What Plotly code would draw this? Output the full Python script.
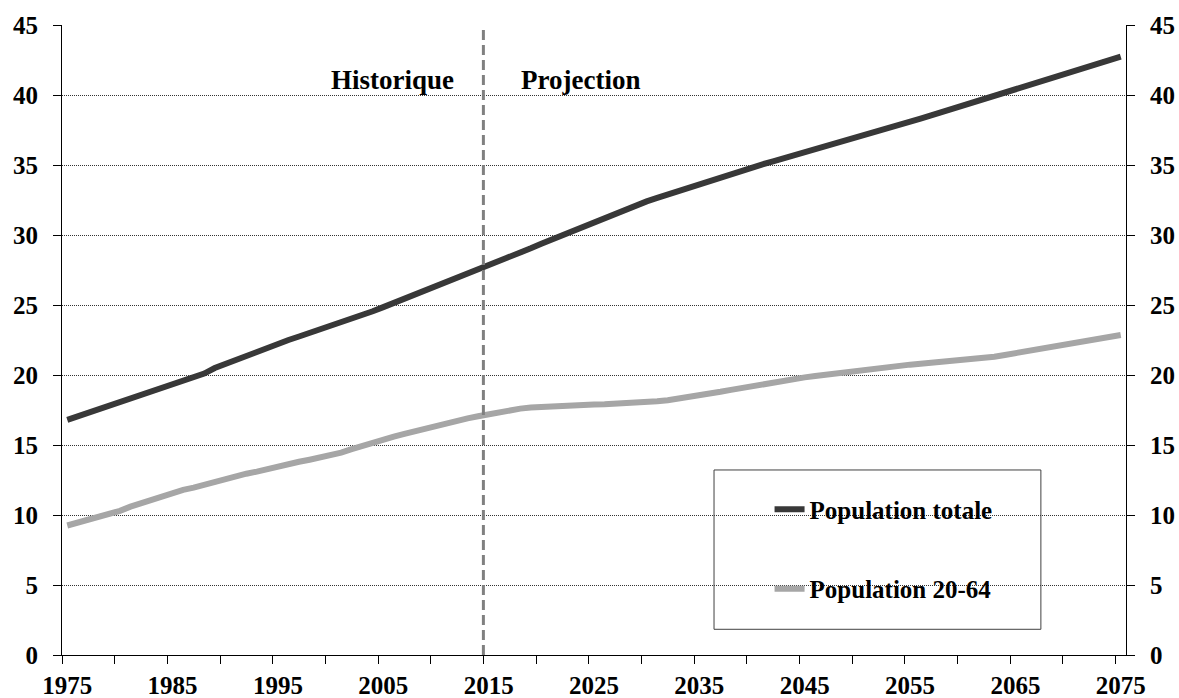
import plotly.graph_objects as go

years = list(range(1975, 2076))

pop_totale = [
    16.8, 17.05, 17.3, 17.55, 17.8, 18.05, 18.3, 18.57, 18.85, 19.1,
    19.3, 19.5, 19.8, 20.1, 20.5, 20.8, 21.1, 21.4, 21.7, 21.95,
    22.2, 22.5, 22.75, 23.0, 23.2, 23.45, 23.8, 24.05, 24.3, 24.55,
    24.85, 25.15, 25.4, 25.7, 26.0, 26.3, 26.55, 26.9, 27.2, 27.45,
    27.75, 28.08, 28.41, 28.73, 29.05, 29.37, 29.68, 29.99, 30.3, 30.61,
    30.92, 31.22, 31.52, 31.82, 32.11, 32.4, 32.65, 32.9, 33.14, 33.38,
    33.62, 33.87, 34.11, 34.36, 34.6, 34.84, 35.05, 35.26, 35.47, 35.68,
    35.89, 36.1, 36.32, 36.54, 36.76, 36.98, 37.2, 37.41, 37.63, 37.85,
    38.08, 38.31, 38.54, 38.77, 39.0, 39.23, 39.47, 39.7, 39.92, 40.15,
    40.37, 40.6, 40.82, 41.05, 41.27, 41.5, 41.75, 42.0, 42.24, 42.49,
    42.74,
]

pop_20_64 = [
    9.25, 9.45, 9.65, 9.85, 10.05, 10.3, 10.6, 10.85, 11.15, 11.4,
    11.6, 11.8, 11.95, 12.15, 12.4, 12.65, 12.8, 12.95, 13.1, 13.3,
    13.45, 13.6, 13.8, 13.95, 14.1, 14.25, 14.45, 14.7, 14.95, 15.2,
    15.4, 15.6, 15.8, 16.0, 16.2, 16.4, 16.55, 16.7, 16.9, 17.05,
    17.2, 17.35, 17.5, 17.6, 17.68, 17.73, 17.78, 17.82, 17.85, 17.87,
    17.89, 17.91, 17.94, 17.97, 18.01, 18.06, 18.12, 18.2, 18.3, 18.42,
    18.55, 18.67, 18.8, 18.94, 19.08, 19.22, 19.36, 19.5, 19.62, 19.73,
    19.83, 19.93, 20.03, 20.13, 20.22, 20.3, 20.4, 20.5, 20.6, 20.68,
    20.74, 20.8, 20.86, 20.91, 20.96, 21.02, 21.08, 21.18, 21.3, 21.43,
    21.56, 21.7, 21.84, 21.98, 22.11, 22.24, 22.37, 22.49, 22.61, 22.73,
    22.86,
]

series_names = ["Population totale", "Population 20-64"]
x_label_years = list(range(1975, 2076, 10))
x_tick_bounds = [y - 0.5 for y in range(1975, 2076, 5)]
y_ticks = list(range(0, 46, 5))
projection_start = 2014.5
period_labels = ["Historique", "Projection"]

FONT = "Liberation Serif"
FS = 25
x_range = [1974.5, 2075.5]
y_range = [0, 45]

fig = go.Figure()
fig.add_trace(go.Scatter(
    x=years, y=pop_totale, name=series_names[0], mode="lines",
    line=dict(color="#383838", width=6), legendgroup="a",
    xaxis="x", yaxis="y2",
))
fig.add_trace(go.Scatter(
    x=years, y=pop_20_64, name=series_names[1], mode="lines",
    line=dict(color="#a6a6a6", width=6), legendgroup="b",
    xaxis="x", yaxis="y",
))

tickfont = dict(family=FONT, size=FS, color="black", weight="bold")

fig.update_layout(
    width=1179, height=698,
    margin=dict(l=62, r=53, t=25, b=43),
    paper_bgcolor="white", plot_bgcolor="white",
    showlegend=True,
    legend=dict(
        x=0.665, y=0.2675, xanchor="left", yanchor="top",
        font=dict(family=FONT, size=FS, color="black", weight="bold"),
        bgcolor="rgba(0,0,0,0)", borderwidth=0,
        traceorder="grouped", tracegroupgap=44,
    ),
    xaxis=dict(
        range=x_range, tickmode="array", tickvals=x_label_years,
        ticktext=[str(v) for v in x_label_years], ticks="",
        minor=dict(tickmode="array", tickvals=x_tick_bounds,
                   ticks="outside", ticklen=8, tickcolor="black",
                   showgrid=False),
        showgrid=False, zeroline=False, showline=True, linecolor="black",
        linewidth=1, tickfont=tickfont, ticklabelstandoff=8,
        automargin=False,
    ),
    yaxis=dict(
        range=y_range, tickmode="array", tickvals=y_ticks, ticks="outside",
        ticklen=8, tickcolor="black", showline=True, linecolor="black",
        linewidth=1, showgrid=True, gridcolor="#333333", griddash="1px,1px",
        gridwidth=1, zeroline=False, tickfont=tickfont, ticklabelstandoff=10,
        automargin=False,
    ),
    yaxis2=dict(
        range=y_range, overlaying="y", anchor="x", side="right",
        tickmode="array", tickvals=y_ticks, ticks="outside", ticklen=8,
        tickcolor="black", showline=True, linecolor="black", linewidth=1,
        showgrid=False, zeroline=False, tickfont=tickfont,
        ticklabelstandoff=10, automargin=False,
    ),
)

# vertical dashed separator between history and projection
fig.add_shape(
    type="line", xref="x", yref="paper", x0=projection_start,
    x1=projection_start, y0=0, y1=1,
    line=dict(color="#808080", width=3, dash="10px,5px"),
)

# legend frame
fig.add_shape(
    type="rect", xref="paper", yref="paper",
    x0=0.6128, x1=0.9200, y0=0.0408, y1=0.2937,
    line=dict(color="#404040", width=1), fillcolor="rgba(0,0,0,0)",
    layer="above",
)

fig.add_annotation(
    x=projection_start, y=41.1, xref="x", yref="y", text=period_labels[0],
    showarrow=False, xanchor="right", xshift=-27,
    font=dict(family=FONT, size=27, color="black", weight="bold"),
)
fig.add_annotation(
    x=projection_start, y=41.1, xref="x", yref="y", text=period_labels[1],
    showarrow=False, xanchor="left", xshift=36,
    font=dict(family=FONT, size=27, color="black", weight="bold"),
)

fig.write_html(
    "out.html",
    config={"displayModeBar": False},
    post_script="document.body.style.margin='0';document.body.style.overflow='hidden';",
)
